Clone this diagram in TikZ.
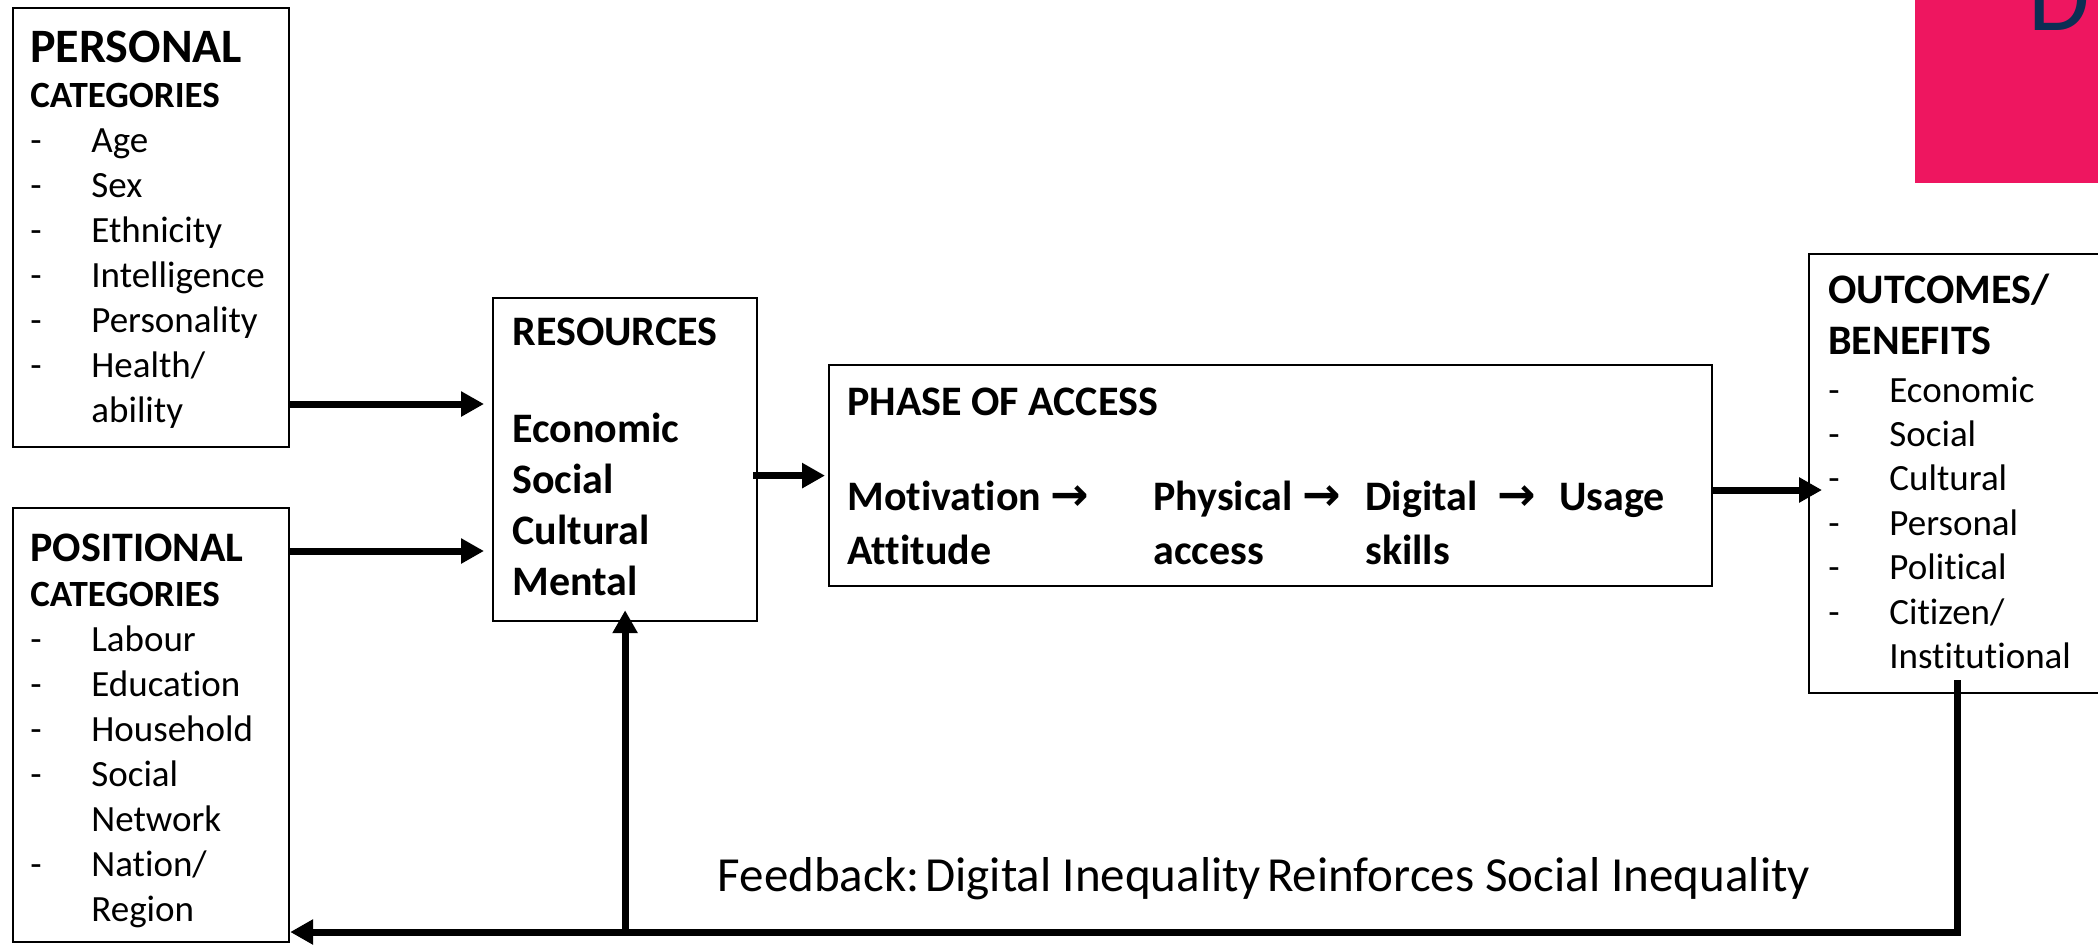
\documentclass[tikz,border=0pt]{standalone}
\usepackage{fontspec}
\setmainfont{Carlito}[Ligatures={NoCommon}]
\newfontfamily\arrowfont{DejaVu Sans}
\usetikzlibrary{arrows.meta}
\definecolor{logopink}{RGB}{238,22,96}
\definecolor{logonavy}{RGB}{12,46,84}
\newcommand*{\dgap    }{30.5pt}
\newcommand*{\ditem   }[1]{\makebox[\dgap][l]{-}#1}
\newcommand*{\dcont   }[1]{\hspace*{\dgap}#1}
\newcommand*{\accarrow}{{\arrowfont\bfseries\fontsize{23}{27}\selectfont →}}

\begin{document}
\begin{tikzpicture}[x=0.5pt, y=-0.5pt, font=\fontsize{18.5}{22.5}\selectfont,
    box/.style={draw, line width=1.1pt, anchor=north west, inner sep=0pt},
    txt/.style={anchor=base west, inner sep=0pt},
    flow/.style={line width=3.5pt, -{Triangle[length=11.5pt, width=12pt]}}]
    \useasboundingbox (0,0) rectangle (2098,944);
    \node[fill=logopink, anchor=north west, inner sep=0pt, minimum width=91.5pt, minimum height=91.5pt] (logo) at (1915,0) {};
    \node[txt, text=logonavy, font=\fontsize{50}{60}\selectfont] (logoletter) at (2028,30) {D};

    \node[box, minimum width=138pt, minimum height=219.5pt] (personal) at (12,7) {};
    \node[txt] (personaltxt) at (30,62) {\begin{tabular}[t]{@{}l@{}}
        {\fontsize{24}{22.5}\selectfont\bfseries PERSONAL}\\
        \textbf{CATEGORIES}\\
        \ditem{Age}\\ \ditem{Sex}\\ \ditem{Ethnicity}\\ \ditem{Intelligence}\\
        \ditem{Personality}\\ \ditem{Health/}\\ \dcont{ability}
    \end{tabular}};

    \node[box, minimum width=138pt, minimum height=217pt] (positional) at (12,507) {};
    \node[txt] (positionaltxt) at (30,561) {\begin{tabular}[t]{@{}l@{}}
        {\fontsize{21}{22.5}\selectfont\bfseries POSITIONAL}\\
        \textbf{CATEGORIES}\\
        \ditem{Labour}\\ \ditem{Education}\\ \ditem{Household}\\ \ditem{Social}\\
        \dcont{Network}\\ \ditem{Nation/}\\ \dcont{Region}
    \end{tabular}};

    \node[box, minimum width=132pt, minimum height=161.5pt] (resources) at (492,297) {};
    \node[txt, font=\fontsize{21}{25.4}\selectfont\bfseries] (resourcestxt) at (512,345) {\begin{tabular}[t]{@{}l@{}}
        RESOURCES\\[23.5pt]
        Economic\\ Social\\ Cultural\\ Mental
    \end{tabular}};

    \node[box, minimum width=441.5pt, minimum height=110.5pt] (phase) at (828,364) {};
    \node[txt, font=\fontsize{21}{27}\selectfont\bfseries] (phasetxt) at (847,415) {\begin{tabular}[t]{@{}p{153pt}@{}p{106pt}@{}p{97pt}@{}l@{}}
        \multicolumn{4}{@{}l@{}}{PHASE OF ACCESS}\\[20.5pt]
        Motivation \accarrow & Physical \accarrow & Digital\hspace{5pt} \accarrow & Usage\\
        Attitude & access & skills &
    \end{tabular}};

    \node[box, minimum width=148pt, minimum height=219.5pt] (outcomes) at (1808,253) {};
    \node[txt, font=\fontsize{18.5}{22.2}\selectfont] (outcomestxt) at (1828,303) {\begin{tabular}[t]{@{}l@{}}
        {\fontsize{21}{22.2}\selectfont\bfseries OUTCOMES/}\\[3.3pt]
        {\fontsize{21}{22.2}\selectfont\bfseries BENEFITS}\\[1.8pt]
        \ditem{Economic}\\ \ditem{Social}\\ \ditem{Cultural}\\ \ditem{Personal}\\
        \ditem{Political}\\ \ditem{Citizen/}\\ \dcont{Institutional}
    \end{tabular}};

    \node[font=\fontsize{24.5}{28}\selectfont, inner sep=0pt] (feedback) at (1264,879) {\frenchspacing Feedback:\hspace{3pt}Digital Inequality\hspace{3pt}Reinforces Social Inequality};

    \coordinate (prow) at (0,404);
    \coordinate (qrow) at (0,551);
    \coordinate (orow) at (0,490);
    \coordinate (fbk)  at (0,932);
    \draw[flow, shorten >=4pt] (personal.east |- prow) -- (resources.west |- prow);
    \draw[flow, shorten >=4pt] (positional.east |- qrow) -- (resources.west |- qrow);
    \draw[flow, shorten <=-2.5pt, shorten >=1.5pt] (resources.east |- phase.west) -- (phase.west);
    \draw[flow, shorten >=-7pt] (phase.east |- orow) -- (outcomes.west |- orow);
    \draw[flow] ([yshift=7pt]outcomes.south) |- (positional.east |- fbk);
    \draw[flow, shorten >=-6pt] (resources.south |- fbk) -- (resources.south);
\end{tikzpicture}
\end{document}
